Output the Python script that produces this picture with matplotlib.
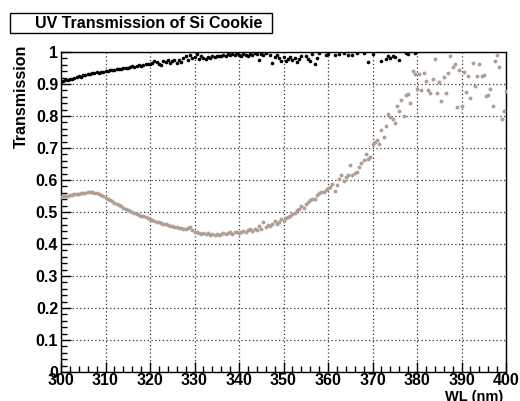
import numpy as np
import matplotlib.pyplot as plt
from matplotlib.patches import Rectangle
from matplotlib.ticker import MultipleLocator

plt.rcParams['font.family'] = ['Liberation Sans', 'DejaVu Sans']
plt.rcParams['font.weight'] = 'bold'

# wavelength grid of the scan (nm)
wl_ref = np.arange(300.0, 380.01, 0.5)
wl_cookie = np.arange(300.0, 400.01, 0.5)

# reference (black) transmission, 300 - 380 nm
t_ref = [
    0.906, 0.909, 0.911, 0.914, 0.916, 0.917, 0.920, 0.921, 0.924, 0.923,
    0.927, 0.928, 0.930, 0.930, 0.933, 0.934, 0.936, 0.935, 0.938, 0.939,
    0.941, 0.940, 0.943, 0.945, 0.944, 0.947, 0.948, 0.947, 0.950, 0.951,
    0.950, 0.953, 0.955, 0.954, 0.957, 0.958, 0.957, 0.960, 0.962, 0.961,
    0.964, 0.966, 0.973, 0.968, 0.963, 0.960, 0.972, 0.970, 0.976, 0.967,
    0.972, 0.974, 0.966, 0.975, 0.970, 0.982, 0.987, 0.975, 0.991, 0.980,
    0.985, 0.993, 0.978, 0.988, 0.982, 0.979, 0.985, 0.981, 0.987, 0.983,
    0.986, 0.989, 0.987, 0.990, 0.988, 0.993, 0.991, 0.995, 0.992, 0.997,
    0.990, 0.988, 0.994, 0.992, 0.989, 0.995, 0.991, 0.996, 0.993, 0.976,
    0.995, 0.990, 0.998, 1.004, 0.992, 0.966, 0.985, 0.990, 0.980, 0.973,
    0.985, 0.971, 0.978, 0.984, 0.975, 0.982, 0.968, 0.977, 0.986, 1.003,
    0.989, 0.979, 0.972, 0.993, 0.962, 0.980, 0.997, 1.006, 1.008, 0.990,
    0.994, 1.004, 1.010, 0.992, 1.002, 0.995, 1.007, 0.996, 1.005, 0.992,
    1.003, 0.991, 1.012, 0.998, 1.004, 1.009, 0.998, 1.006, 0.970, 1.002,
    0.993, 1.005, 1.008, 1.003, 0.972, 1.006, 0.978, 0.989, 0.982, 0.986,
    0.985, 1.004, 0.976, 1.002, 1.007, 0.997, 0.994, 1.009, 1.003, 0.997,
    1.004,
]

# Si cookie (brown) transmission, 300 - 400 nm
t_cookie = [
    0.547, 0.549, 0.550, 0.551, 0.553, 0.554, 0.555, 0.556, 0.557, 0.558,
    0.559, 0.560, 0.561, 0.561, 0.561, 0.560, 0.558, 0.556, 0.553, 0.549,
    0.545, 0.541, 0.537, 0.533, 0.529, 0.525, 0.521, 0.518, 0.514, 0.510,
    0.507, 0.504, 0.500, 0.497, 0.494, 0.491, 0.488, 0.486, 0.483, 0.480,
    0.477, 0.475, 0.472, 0.470, 0.468, 0.466, 0.463, 0.461, 0.459, 0.457,
    0.456, 0.454, 0.452, 0.451, 0.449, 0.447, 0.446, 0.450, 0.452, 0.444,
    0.439, 0.437, 0.434, 0.432, 0.435, 0.431, 0.433, 0.429, 0.431, 0.428,
    0.430, 0.429, 0.431, 0.434, 0.431, 0.433, 0.436, 0.432, 0.436, 0.438,
    0.435, 0.439, 0.441, 0.438, 0.443, 0.446, 0.442, 0.448, 0.445, 0.455,
    0.447, 0.468, 0.452, 0.460, 0.457, 0.464, 0.472, 0.462, 0.469, 0.478,
    0.472, 0.480, 0.483, 0.488, 0.493, 0.498, 0.505, 0.509, 0.518, 0.512,
    0.524, 0.532, 0.537, 0.542, 0.540, 0.553, 0.558, 0.561, 0.563, 0.568,
    0.574, 0.579, 0.588, 0.566, 0.584, 0.603, 0.615, 0.596, 0.610, 0.617,
    0.648, 0.616, 0.621, 0.624, 0.640, 0.652, 0.664, 0.682, 0.666, 0.671,
    0.713, 0.718, 0.726, 0.711, 0.755, 0.735, 0.770, 0.805, 0.797, 0.790,
    0.777, 0.830, 0.815, 0.850, 0.800, 0.865, 0.870, 0.840, 0.940, 0.930,
    0.885, 0.930, 0.880, 0.933, 0.910, 0.882, 0.872, 0.916, 0.978, 0.872,
    0.906, 0.848, 0.921, 0.872, 0.934, 0.989, 0.953, 0.964, 0.827, 0.945,
    0.830, 0.936, 0.875, 0.924, 0.856, 0.966, 0.895, 0.924, 0.964, 0.924,
    0.927, 0.861, 0.867, 0.885, 0.830, 0.973, 0.990, 0.952, 0.790, 0.815,
    0.877,
]

x_ticks = [300, 310, 320, 330, 340, 350, 360, 370, 380, 390, 400]
y_ticks = [0, 0.1, 0.2, 0.3, 0.4, 0.5, 0.6, 0.7, 0.8, 0.9, 1]
y_labels = ['0', '0.1', '0.2', '0.3', '0.4', '0.5', '0.6', '0.7', '0.8', '0.9', '1']

W, H = 520, 401
fig = plt.figure(figsize=(W / 100, H / 100), dpi=100)
ax = fig.add_axes([61 / W, 29 / H, 445 / W, 320 / H])

# like ROOT, points outside the frame are not drawn
t_ref = np.array(t_ref)
t_cookie = np.array(t_cookie)
m1 = t_ref <= 1.0
m2 = t_cookie <= 1.0
ax.plot(wl_ref[m1], t_ref[m1], 'o', color='black', ms=2.6, mew=0, zorder=3)
ax.plot(wl_cookie[m2], t_cookie[m2], 'o', color='#b39e94', ms=2.8, mew=0, zorder=3)

ax.set_xlim(300, 400)
ax.set_ylim(0, 1)
ax.set_xticks(x_ticks)
ax.set_yticks(y_ticks)
ax.set_yticklabels(y_labels)
ax.xaxis.set_minor_locator(MultipleLocator(2))
ax.yaxis.set_minor_locator(MultipleLocator(0.02))
ax.tick_params(which='both', direction='in', top=False, right=False, width=1, labelsize=11.5)
ax.tick_params(which='major', length=7)
ax.tick_params(which='minor', length=4)
ax.tick_params(axis='y', pad=2)
ax.tick_params(axis='x', pad=1)
for lab in ax.get_xticklabels() + ax.get_yticklabels():
    lab.set_fontweight('bold')
ax.grid(True, which='major', color='#333333', linestyle=(0, (1, 2)), linewidth=0.9)
for sp in ax.spines.values():
    sp.set_linewidth(1.0)

# title box
fig.patches.append(Rectangle((10 / W, 1 - 33 / H), 262 / W, 20 / H, transform=fig.transFigure,
                             facecolor='white', edgecolor='black', linewidth=1))
fig.text(149 / W, 1 - 23.5 / H, 'UV Transmission of Si Cookie', ha='center', va='center',
         fontsize=11.5, fontweight='heavy')

fig.text(21 / W, 1 - 45 / H, 'Transmission', rotation=90, ha='center', va='top',
         fontsize=11.5, fontweight='bold')
fig.text(503 / W, 1 - 390 / H, 'WL (nm)', ha='right', va='top',
         fontsize=10.5, fontweight='bold')

fig.savefig('out.png', dpi=100)
